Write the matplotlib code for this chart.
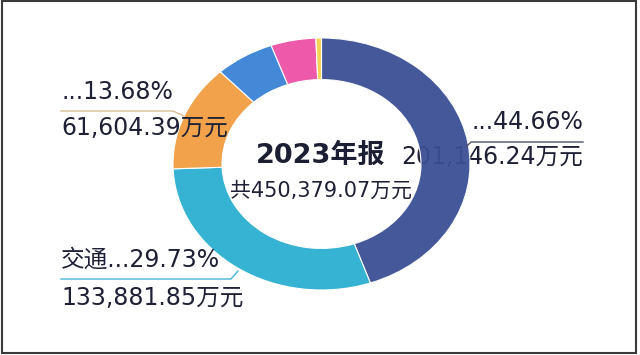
import matplotlib
matplotlib.use('Agg')
import matplotlib.pyplot as plt
from matplotlib.patches import Rectangle

# wide latin digits from DejaVu, Chinese glyphs from Noto CJK
plt.rcParams['font.family'] = ['DejaVu Sans', 'Noto Sans CJK SC']

# data (万元)
segments = ['navy', 'cyan', 'orange', 'blue', 'pink', 'yellow']
values = [201146.24, 133881.85, 61604.39, 28950.00, 22080.00, 2716.59]
colors = ['#3B4F95', '#36B2D2', '#F2A24B', '#4489D7', '#EE5AAA', '#F4D452']
total_label = '共450,379.07万元'
title = '2023年报'
pct_labels = ['...44.66%', '交通...29.73%', '...13.68%']
val_labels = ['201,146.24万元', '133,881.85万元', '61,604.39万元']

txt_col = '#1E2036'
W, H = 640, 355
fs = 17

fig = plt.figure(figsize=(6.4, 3.55), dpi=100)
fig.patch.set_facecolor('white')

# back layer in pixel coords (text that the ring covers)
back = fig.add_axes([0, 0, 1, 1])
back.set_xlim(0, W)
back.set_ylim(H, 0)
back.axis('off')
back.text(583, 164, val_labels[0], ha='right', va='baseline', fontsize=fs, color=txt_col)

# the ring, stretched a bit wider than tall like the picture
cx, cy, rx, ry = 321.5, 164, 148.5, 126
pie_ax = fig.add_axes([(cx - rx) / W, 1 - (cy + ry) / H, 2 * rx / W, 2 * ry / H])
wedges, _ = pie_ax.pie(values, colors=colors, startangle=90, counterclock=False, radius=1,
                       wedgeprops=dict(width=0.33, edgecolor='white', linewidth=0.8))
wedges[0].set_alpha(0.95)  # the covered label shows faintly through
pie_ax.set_aspect('auto')
pie_ax.set_xlim(-1, 1)
pie_ax.set_ylim(-1, 1)
pie_ax.axis('off')
pie_ax.patch.set_alpha(0)

# front layer
ax = fig.add_axes([0, 0, 1, 1])
ax.set_xlim(0, W)
ax.set_ylim(H, 0)
ax.axis('off')
ax.patch.set_alpha(0)

ax.text(583, 129, pct_labels[0], ha='right', va='baseline', fontsize=fs, color=txt_col)
ax.plot([466, 471, 583], [147, 142, 142], color='#4B5268', lw=1.0)

ax.text(61, 267, pct_labels[1], ha='left', va='baseline', fontsize=fs, color=txt_col)
ax.text(61, 305, val_labels[1], ha='left', va='baseline', fontsize=fs, color=txt_col)
ax.plot([61, 231, 238], [279, 279, 271], color='#45B6D6', lw=1.0)

ax.text(61, 99, pct_labels[2], ha='left', va='baseline', fontsize=fs, color=txt_col)
ax.text(61, 135, val_labels[2], ha='left', va='baseline', fontsize=fs, color=txt_col)
ax.plot([61, 173, 184], [111, 111, 116], color='#D9BC92', lw=1.0)

ax.text(321, 163, title, ha='center', va='baseline', fontsize=19.5, fontweight='bold', color='#1C1E33')
ax.text(321, 197, total_label, ha='center', va='baseline', fontsize=15, color=txt_col)

ax.add_patch(Rectangle((2, 1), 634, 352, fill=False, edgecolor='#3A3A3A', lw=1.5))

fig.savefig('out.png', dpi=100)
